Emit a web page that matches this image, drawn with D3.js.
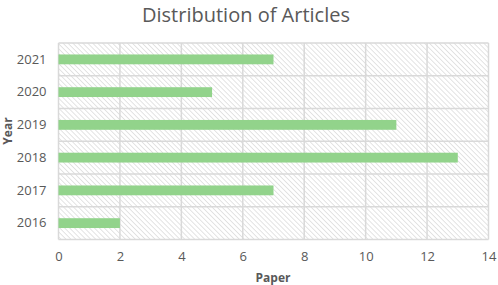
<!DOCTYPE html>
<html>
<head>
<meta charset="utf-8">
<script src="https://cdn.jsdelivr.net/npm/d3@7"></script>
<style>
  body { margin: 0; background: #fff; }
  text { font-family: "Open Sans", "Liberation Sans", sans-serif; fill: #595959; }
</style>
</head>
<body>
<div id="chart"></div>
<script>
const years = ["2021", "2020", "2019", "2018", "2017", "2016"];
const papers = [7, 5, 11, 13, 7, 2];
const xTicks = [0, 2, 4, 6, 8, 10, 12, 14];

const W = 498, H = 285;
const margin = { top: 43, right: 10, bottom: 46, left: 58.5 },
    width = 488.5 - margin.left,
    height = 239.5 - margin.top;

const svg = d3.select("#chart")
    .append("svg")
    .attr("width", W)
    .attr("height", H);

// diagonal hatch for the plot background
const pat = svg.append("defs").append("pattern")
    .attr("id", "hatch")
    .attr("patternUnits", "userSpaceOnUse")
    .attr("width", 3.5)
    .attr("height", 3.5)
    .attr("patternTransform", "rotate(45)");
pat.append("rect").attr("width", 3.5).attr("height", 3.5).attr("fill", "#fff");
pat.append("line")
    .attr("x1", 0).attr("y1", 0).attr("x2", 3.5).attr("y2", 0)
    .attr("stroke", "#d6d6d6").attr("stroke-width", 1.3);

svg.append("text")
    .attr("x", 246)
    .attr("y", 22)
    .attr("text-anchor", "middle")
    .style("font-size", "20px")
    .text("Distribution of Articles");

const g = svg.append("g")
    .attr("transform", `translate(${margin.left},${margin.top})`);

const x = d3.scaleLinear()
    .domain([0, 14])
    .range([0, width]);

const y = d3.scaleBand()
    .domain(years)
    .range([0, height])
    .paddingInner(0.7)
    .paddingOuter(0.35);

const yGrid = d3.scaleBand().domain(years).range([0, height]);

g.append("rect")
    .attr("width", width)
    .attr("height", height)
    .attr("fill", "url(#hatch)");

// grid
g.selectAll(".vgrid")
    .data(xTicks)
    .enter()
    .append("line")
    .attr("x1", d => x(d)).attr("x2", d => x(d))
    .attr("y1", 0).attr("y2", height)
    .attr("stroke", "#d9d9d9").attr("stroke-width", 1.5);

g.selectAll(".hgrid")
    .data(years)
    .enter()
    .append("line")
    .attr("x1", 0).attr("x2", width)
    .attr("y1", d => yGrid(d)).attr("y2", d => yGrid(d))
    .attr("stroke", "#d9d9d9").attr("stroke-width", 1.5);

g.append("line")
    .attr("x1", 0).attr("x2", width)
    .attr("y1", height).attr("y2", height)
    .attr("stroke", "#d9d9d9").attr("stroke-width", 1.5);

g.selectAll(".bar")
    .data(papers)
    .enter()
    .append("rect")
    .attr("class", "bar")
    .attr("x", x(0))
    .attr("y", (d, i) => y(years[i]))
    .attr("width", d => x(d) - x(0))
    .attr("height", y.bandwidth())
    .attr("fill", "#92d38b");

const xAxis = g.append("g")
    .attr("transform", `translate(0,${height})`)
    .call(d3.axisBottom(x).tickValues(xTicks).tickSize(0).tickPadding(12));
xAxis.select(".domain").remove();
xAxis.selectAll("text").style("font-size", "13px").attr("fill", "#595959");

const yAxis = g.append("g")
    .call(d3.axisLeft(y).tickSize(0).tickPadding(12));
yAxis.select(".domain").remove();
yAxis.selectAll("text").style("font-size", "13px").attr("fill", "#595959");

svg.append("text")
    .attr("x", 273)
    .attr("y", 282)
    .attr("text-anchor", "middle")
    .style("font-size", "12px")
    .style("font-weight", "bold")
    .text("Paper");

svg.append("text")
    .attr("transform", "translate(12,131) rotate(-90)")
    .attr("text-anchor", "middle")
    .style("font-size", "12px")
    .style("font-weight", "bold")
    .text("Year");
</script>
</body>
</html>
